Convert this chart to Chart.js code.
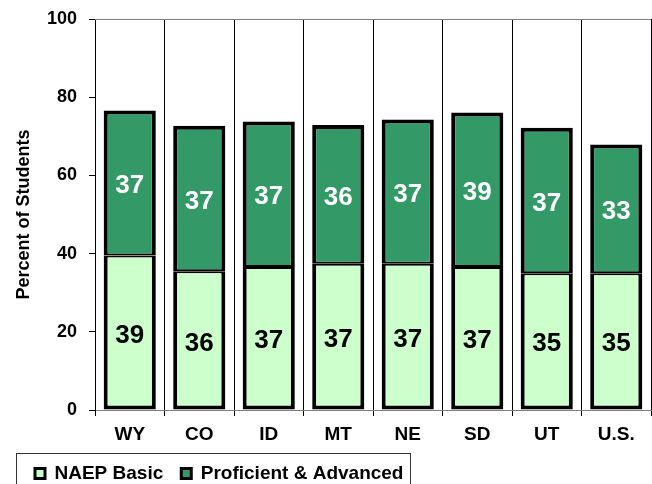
<!DOCTYPE html>
<html>
<head>
<meta charset="utf-8">
<script src="https://cdn.jsdelivr.net/npm/chart.js@4"></script>
<style>
  html, body { margin: 0; padding: 0; background: #fff; overflow: hidden; }
  canvas { display: block; }
</style>
</head>
<body>
<canvas id="myChart" width="652" height="494"></canvas>
<script>
// Categorías y valores
const estados = ['WY', 'CO', 'ID', 'MT', 'NE', 'SD', 'UT', 'U.S.'];
const basico = [39.5, 35.5, 36.6, 37.4, 37.4, 36.6, 35.0, 35.0];
const proficiente = [37.1, 37.2, 37.2, 35.5, 36.9, 39.5, 37.2, 32.9];

// Etiquetas que aparecen dentro de las barras
const etiquetasBasico = [39, 36, 37, 37, 37, 37, 35, 35];
const etiquetasProficiente = [37, 37, 37, 36, 37, 39, 37, 33];

// Marcas del eje Y
const yTicks = [0, 20, 40, 60, 80, 100];

const fuente = '"Liberation Sans", Arial, sans-serif';

// Plugin para escribir los valores dentro de cada barra
const valueLabels = {
  id: 'valueLabels',
  afterDatasetsDraw(chart) {
    const ctx = chart.ctx;
    ctx.save();
    ctx.font = 'bold 26px ' + fuente;
    ctx.textAlign = 'center';
    ctx.textBaseline = 'middle';
    chart.data.datasets.forEach((ds, i) => {
      const meta = chart.getDatasetMeta(i);
      meta.data.forEach((bar, j) => {
        ctx.fillStyle = ds.labelColor;
        ctx.fillText(String(ds.etiquetas[j]), bar.x, (bar.y + bar.base) / 2 + 3);
      });
    });
    ctx.restore();
  }
};

// Plugin para el borde superior del área y el recuadro de la leyenda
const marco = {
  id: 'marco',
  beforeDatasetsDraw(chart) {
    const { ctx, chartArea: a } = chart;
    ctx.save();
    ctx.strokeStyle = '#808080';
    ctx.lineWidth = 1;
    ctx.beginPath();
    ctx.moveTo(a.left, Math.round(a.top) + 0.5);
    ctx.lineTo(a.right, Math.round(a.top) + 0.5);
    ctx.stroke();
    ctx.restore();
  },
  afterDraw(chart) {
    const legend = chart.legend;
    const boxes = legend.legendHitBoxes;
    if (!boxes || !boxes.length) return;
    const last = boxes[boxes.length - 1];
    const centro = boxes[0].top + boxes[0].height / 2;
    const ctx = chart.ctx;
    ctx.save();
    ctx.strokeStyle = '#333';
    ctx.lineWidth = 1;
    ctx.strokeRect(16.5, Math.round(centro - 21) + 0.5, Math.round(last.left + last.width + 7) - 16, 60);
    ctx.restore();
  }
};

const ctx = document.getElementById('myChart').getContext('2d');
const chart = new Chart(ctx, {
  type: 'bar',
  data: {
    labels: estados,
    datasets: [{
      label: 'NAEP Basic',
      data: basico,
      etiquetas: etiquetasBasico,
      labelColor: '#000',
      backgroundColor: '#CCFFCC',
      borderColor: '#000',
      borderWidth: { top: 2, left: 4, right: 4, bottom: 4 },
      borderSkipped: false,
      barPercentage: 0.75,
      categoryPercentage: 1
    }, {
      label: 'Proficient & Advanced',
      data: proficiente,
      etiquetas: etiquetasProficiente,
      labelColor: '#fff',
      backgroundColor: '#339966',
      borderColor: '#000',
      borderWidth: { top: 4, left: 4, right: 4, bottom: 2 },
      borderSkipped: false,
      barPercentage: 0.75,
      categoryPercentage: 1
    }]
  },
  options: {
    responsive: false,
    animation: false,
    layout: { padding: { left: 17, right: 1, top: 19, bottom: 1 } },
    plugins: {
      tooltip: { enabled: false },
      legend: {
        position: 'bottom',
        align: 'start',
        labels: {
          color: '#000',
          font: { family: fuente, size: 19, weight: 'bold' },
          boxWidth: 10,
          boxHeight: 10,
          padding: 18,
          generateLabels(chart) {
            const items = Chart.defaults.plugins.legend.labels.generateLabels(chart);
            items.forEach(it => { it.lineWidth = 3; it.strokeStyle = '#000'; });
            return items;
          }
        },
        onClick: null
      }
    },
    scales: {
      x: {
        stacked: true,
        afterFit(scale) { scale.height = 36; },
        grid: {
          offset: true,
          color: c => (c.index === estados.length ? '#808080' : '#000'),
          lineWidth: 1,
          tickLength: 6
        },
        border: { color: '#808080', width: 1 },
        ticks: {
          color: '#000',
          padding: 7,
          font: { family: fuente, size: 19, weight: 'bold' }
        }
      },
      y: {
        stacked: true,
        min: yTicks[0],
        max: yTicks[yTicks.length - 1],
        afterFit(scale) { scale.width = 78; scale.paddingTop = 0; },
        grid: { drawOnChartArea: false, color: '#000', tickLength: 6 },
        border: { color: '#000', width: 1 },
        ticks: {
          stepSize: yTicks[1] - yTicks[0],
          color: '#000',
          padding: 12,
          font: { family: fuente, size: 18, weight: 'bold' }
        },
        title: {
          display: true,
          text: 'Percent of Students',
          color: '#000',
          padding: { top: -4, bottom: 0 },
          font: { family: fuente, size: 18, weight: 'bold' }
        }
      }
    }
  },
  plugins: [valueLabels, marco]
});
</script>
</body>
</html>
